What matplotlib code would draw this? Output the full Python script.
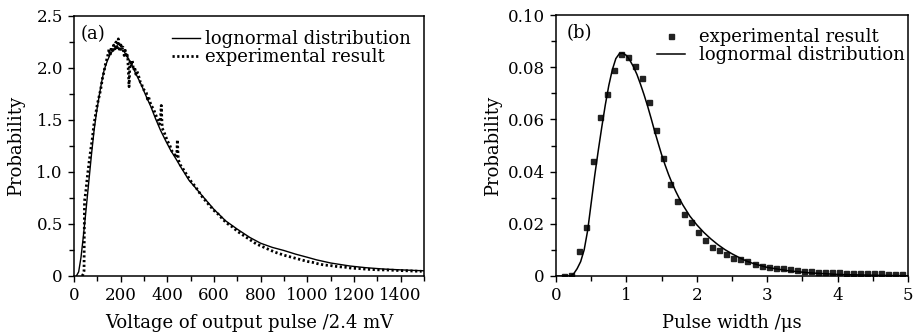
import numpy as np
import matplotlib
matplotlib.use("Agg")
import matplotlib.pyplot as plt
from matplotlib.ticker import MultipleLocator, FuncFormatter

plt.rcParams['font.family'] = ['DejaVu Serif']

# (a) lognormal fit
fit_a_x = [10, 20, 30, 40, 50, 64, 75, 86, 97, 107, 118, 129, 143, 157, 172, 186,
           200, 214, 228, 243, 264, 286, 307, 329, 350, 371, 393, 414, 436, 457,
           493, 520, 554, 600, 650, 700, 754, 800, 850, 900, 950, 1000, 1040,
           1100, 1183, 1250, 1326, 1400, 1500]
fit_a_y = [0.0, 0.04, 0.18, 0.38, 0.60, 0.92, 1.17, 1.40, 1.58, 1.72, 1.86, 1.98,
           2.07, 2.14, 2.18, 2.19, 2.18, 2.16, 2.11, 2.05, 1.95, 1.85, 1.74, 1.63,
           1.51, 1.40, 1.30, 1.21, 1.13, 1.05, 0.92, 0.85, 0.76, 0.64, 0.53, 0.45,
           0.37, 0.315, 0.275, 0.245, 0.21, 0.18, 0.155, 0.125, 0.096, 0.08, 0.067,
           0.059, 0.05]

# (a) experimental result
exp_a_x = [35, 40, 43, 45, 50, 57, 65, 72, 78, 85, 93, 100, 107, 114, 122, 130, 136,
           143, 150, 155, 160, 165, 170, 175, 180, 185, 190, 195, 200, 205, 210, 215,
           220, 225, 230, 236, 240, 245, 250, 255, 260, 265, 270, 280, 285, 290, 295,
           300, 310, 315, 320, 330, 340, 350, 360, 365, 370, 374, 378, 385, 390, 400,
           410, 420, 430, 440, 443, 447, 455, 465, 475, 485, 495, 505, 520, 535, 550,
           565, 580, 600, 620, 640, 660, 680, 700, 720, 740, 760, 780, 800, 820, 840,
           860, 880, 900, 925, 950, 975, 1000, 1025, 1050, 1075, 1100, 1130, 1160,
           1190, 1220, 1250, 1280, 1310, 1340, 1370, 1400, 1430, 1460, 1490]
exp_a_y = [0.0, 0.02, 0.05, 0.72, 0.80, 0.95, 1.10, 1.22, 1.31, 1.45, 1.56, 1.65,
           1.72, 1.79, 1.90, 1.98, 2.05, 2.10, 2.18, 2.12, 2.20, 2.15, 2.22, 2.17,
           2.25, 2.20, 2.28, 2.16, 2.24, 2.18, 2.20, 2.12, 2.17, 2.10, 2.12, 1.82,
           2.06, 2.03, 2.07, 1.98, 2.01, 1.94, 1.97, 1.90, 1.86, 1.85, 1.80, 1.79,
           1.76, 1.70, 1.72, 1.64, 1.61, 1.55, 1.50, 1.46, 1.48, 1.64, 1.42, 1.39,
           1.36, 1.30, 1.26, 1.20, 1.17, 1.14, 1.31, 1.12, 1.07, 1.04, 1.00, 0.97,
           0.93, 0.90, 0.86, 0.81, 0.76, 0.72, 0.68, 0.63, 0.59, 0.54, 0.50, 0.47,
           0.43, 0.40, 0.37, 0.34, 0.31, 0.29, 0.27, 0.25, 0.23, 0.215, 0.20, 0.185,
           0.17, 0.155, 0.14, 0.13, 0.115, 0.105, 0.10, 0.09, 0.085, 0.075, 0.072,
           0.066, 0.062, 0.059, 0.058, 0.055, 0.052, 0.05, 0.047, 0.045]

# (b) lognormal fit
fit_b_x = [0.0, 0.20, 0.25, 0.30, 0.35, 0.40, 0.45, 0.50, 0.55, 0.60, 0.65, 0.70,
           0.75, 0.80, 0.85, 0.90, 0.95, 1.00, 1.05, 1.10, 1.15, 1.20, 1.25, 1.30,
           1.35, 1.40, 1.45, 1.50, 1.55, 1.60, 1.65, 1.70, 1.75, 1.80, 1.90, 2.00,
           2.10, 2.20, 2.30, 2.40, 2.50, 2.60, 2.70, 2.80, 3.00, 3.30, 3.60, 4.00,
           4.50, 5.00]
fit_b_y = [0.0, 0.0, 0.0008, 0.0028, 0.0055, 0.0100, 0.0175, 0.0280, 0.0385,
           0.0480, 0.0570, 0.0655, 0.0730, 0.0790, 0.0833, 0.0852, 0.0854, 0.0845,
           0.0826, 0.0802, 0.0772, 0.0735, 0.0695, 0.0652, 0.0605, 0.0556, 0.0510,
           0.0465, 0.0425, 0.0388, 0.0355, 0.0325, 0.0298, 0.0273, 0.0230, 0.0196,
           0.0167, 0.0142, 0.0120, 0.0101, 0.0085, 0.0071, 0.0058, 0.0048, 0.0033,
           0.0020, 0.0012, 0.0006, 0.0003, 0.0001]

# (b) experimental result
exp_b_x = [0.12, 0.22, 0.32, 0.42, 0.52, 0.62, 0.72, 0.82, 0.92, 1.02, 1.12, 1.22,
           1.32, 1.42, 1.52, 1.62, 1.72, 1.82, 1.92, 2.02, 2.12, 2.22, 2.32, 2.42,
           2.52, 2.62, 2.72, 2.82, 2.92, 3.02, 3.12, 3.22, 3.32, 3.42, 3.52, 3.62,
           3.72, 3.82, 3.92, 4.02, 4.12, 4.22, 4.32, 4.42, 4.52, 4.62, 4.72, 4.82,
           4.92]
exp_b_y = [0.0001, 0.0003, 0.0097, 0.0188, 0.0442, 0.0608, 0.0697, 0.0789, 0.0851,
           0.0840, 0.0805, 0.0760, 0.0667, 0.0559, 0.0451, 0.0352, 0.0289, 0.0239,
           0.0206, 0.0169, 0.0138, 0.0112, 0.0100, 0.0084, 0.0069, 0.0066, 0.0056,
           0.0047, 0.0040, 0.0034, 0.0031, 0.0029, 0.0026, 0.0023, 0.0021, 0.0019,
           0.0017, 0.0016, 0.0015, 0.0014, 0.0013, 0.0012, 0.0012, 0.0011, 0.0010,
           0.0010, 0.0009, 0.0009, 0.0008]

tick_fs = 12
text_fs = 13

fig = plt.figure(figsize=(9.14, 3.36), dpi=100)
ax1 = fig.add_axes([74 / 914, 60 / 336, 350 / 914, 260 / 336])
ax2 = fig.add_axes([556 / 914, 60 / 336, 352 / 914, 261 / 336])


def style(ax):
    for s in ax.spines.values():
        s.set_linewidth(1.1)
    ax.tick_params(which='both', direction='out', top=False, right=False,
                   labelsize=tick_fs, width=1.0)
    ax.tick_params(which='major', length=4.5)
    ax.tick_params(which='minor', length=3.5)


# panel (a)
ax1.plot(fit_a_x, fit_a_y, color='black', lw=1.0, label='lognormal distribution')
ax1.plot(exp_a_x, exp_a_y, color='black', lw=2.0, ls=(0, (0.8, 0.9)),
         label='experimental result')
ax1.set_xlim(0, 1500)
ax1.set_ylim(0, 2.5)
ax1.xaxis.set_major_locator(MultipleLocator(200))
ax1.xaxis.set_minor_locator(MultipleLocator(100))
ax1.yaxis.set_major_locator(MultipleLocator(0.5))
ax1.yaxis.set_minor_locator(MultipleLocator(0.25))
ax1.yaxis.set_major_formatter(FuncFormatter(lambda v, p: '0' if v == 0 else f'{v:.1f}'))
style(ax1)
ax1.set_xlabel('Voltage of output pulse /2.4 mV', fontsize=text_fs, labelpad=7)
ax1.set_ylabel('Probability', fontsize=text_fs, labelpad=8)
ax1.text(0.02, 0.965, '(a)', transform=ax1.transAxes, fontsize=text_fs, va='top')
ax1.legend(loc='upper right', bbox_to_anchor=(0.963, 0.945), frameon=False,
           fontsize=text_fs, handlelength=1.55, handletextpad=0.3, labelspacing=0,
           borderaxespad=0, borderpad=0)

# panel (b)
ax2.plot(exp_b_x, exp_b_y, ls='none', marker='s', ms=3.6, color='#222222',
         mec='#222222', label='experimental result')
ax2.plot(fit_b_x, fit_b_y, color='black', lw=1.1, label='lognormal distribution')
ax2.set_xlim(0, 5)
ax2.set_ylim(0, 0.10)
ax2.xaxis.set_major_locator(MultipleLocator(1))
ax2.xaxis.set_minor_locator(MultipleLocator(0.5))
ax2.yaxis.set_major_locator(MultipleLocator(0.02))
ax2.yaxis.set_minor_locator(MultipleLocator(0.01))
ax2.yaxis.set_major_formatter(FuncFormatter(lambda v, p: '0' if abs(v) < 1e-9 else f'{v:.2f}'))
style(ax2)
ax2.set_xlabel('Pulse width /μs', fontsize=text_fs, labelpad=7)
ax2.set_ylabel('Probability', fontsize=text_fs, labelpad=4)
ax2.text(0.03, 0.965, '(b)', transform=ax2.transAxes, fontsize=text_fs, va='top')
ax2.legend(loc='upper right', bbox_to_anchor=(0.991, 0.95), frameon=False,
           fontsize=text_fs, handlelength=1.55, handletextpad=0.75, labelspacing=0,
           borderaxespad=0, borderpad=0)

fig.savefig('out.png', dpi=100)
